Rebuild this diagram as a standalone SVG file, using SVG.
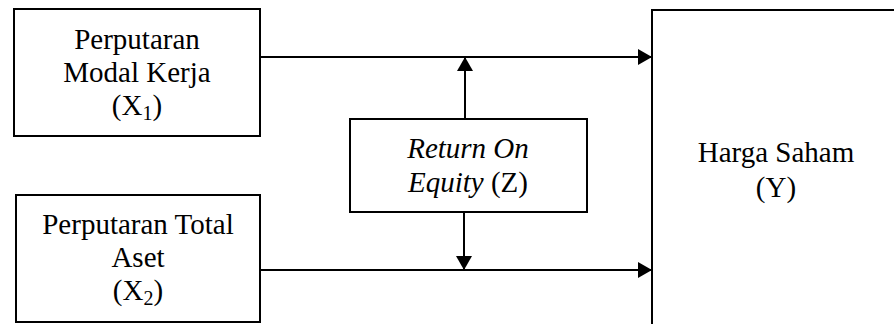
<svg xmlns="http://www.w3.org/2000/svg" width="894" height="324" viewBox="0 0 894 324">
<style>
.box{fill:#fff;stroke:#000;stroke-width:2}
.t{font-family:"Liberation Serif","Times New Roman",serif;font-size:29px;fill:#000;text-anchor:middle}
.i{font-style:italic}
.s{font-size:20px}
.ln{stroke:#000;stroke-width:2;fill:none}
</style>
<defs>
<marker id="ah" viewBox="0 0 14 16" refX="14" refY="8" markerWidth="14" markerHeight="16" markerUnits="userSpaceOnUse" orient="auto">
<path d="M0,0 L14,8 L0,16 Z" fill="#000"/>
</marker>
</defs>
<rect width="894" height="324" fill="#fff"/>
<g id="connectors">
<line class="ln" x1="260" y1="57" x2="652" y2="57" marker-end="url(#ah)"/>
<line class="ln" x1="260" y1="270" x2="652" y2="270" marker-end="url(#ah)"/>
<line class="ln" x1="465" y1="119" x2="465" y2="57" marker-end="url(#ah)"/>
<line class="ln" x1="464" y1="212" x2="464" y2="270" marker-end="url(#ah)"/>
</g>
<g id="x1">
<rect class="box" x="14" y="9" width="246" height="127"/>
<text class="t" x="137" y="49">Perputaran</text>
<text class="t" x="137" y="82">Modal Kerja</text>
<text class="t" x="137" y="115">(X<tspan class="s" dy="5">1</tspan><tspan dy="-5">)</tspan></text>
</g>
<g id="x2">
<rect class="box" x="16" y="195" width="244" height="127"/>
<text class="t" x="138" y="234">Perputaran Total</text>
<text class="t" x="138" y="267">Aset</text>
<text class="t" x="138" y="300">(X<tspan class="s" dy="5">2</tspan><tspan dy="-5">)</tspan></text>
</g>
<g id="z">
<rect class="box" x="350" y="119" width="237" height="93"/>
<text class="t i" x="468" y="158">Return On</text>
<text class="t" x="468" y="192"><tspan class="i">Equity</tspan> (Z)</text>
</g>
<g id="y">
<rect class="box" x="652" y="10" width="260" height="330"/>
<text class="t" x="776" y="162">Harga Saham</text>
<text class="t" x="776" y="197">(Y)</text>
</g>
</svg>
